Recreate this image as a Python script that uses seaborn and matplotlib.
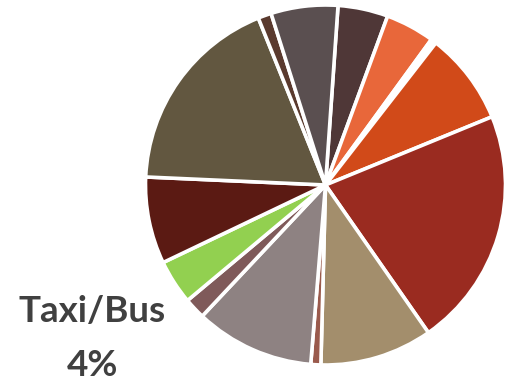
import matplotlib
matplotlib.use("Agg")
import matplotlib.pyplot as plt
import seaborn as sns

# Share of trips by category, clockwise from the top
categories = [
    "Cat A", "Cat B", "Cat C", "Cat D", "Cat E", "Cat F", "Cat G",
    "Cat H", "Cat I", "Taxi/Bus", "Cat K", "Cat L", "Cat M", "Cat N",
]
shares = [4.5, 4.4, 0.5, 8.3, 21.5, 10.1, 0.9, 10.7, 1.9, 4.0, 7.8, 18.2, 1.2, 6.0]
colors = [
    "#4f3737", "#e8673a", "#ffffff", "#d14a19", "#9a2b20", "#a38e6c", "#9a5a4c",
    "#8e8282", "#7f5a5a", "#92d050", "#5b1a13", "#625740", "#5a3a2e", "#5a4f50",
]
labelled = "Taxi/Bus"

sns.set_theme(style="white")
plt.rcParams["font.family"] = ["Lato", "DejaVu Sans"]

W, H = 510, 381
fig = plt.figure(figsize=(W / 100, H / 100), dpi=100)
cx, cy, r = 325.5, 185, 180
ax = fig.add_axes([(cx - r) / W, (H - cy - r) / H, 2 * r / W, 2 * r / H])

ax.pie(
    shares,
    colors=colors,
    startangle=86,
    counterclock=False,
    radius=1.0,
    wedgeprops=dict(edgecolor="white", linewidth=2.6),
)
ax.set_xlim(-1.0, 1.0)
ax.set_ylim(-1.0, 1.0)
ax.set_aspect("equal")
ax.axis("off")

val = shares[categories.index(labelled)]
fig.text(92 / W, 1 - 312 / H, labelled, ha="center", va="center",
         fontsize=26.5, fontweight="bold", color="#404040")
fig.text(93 / W, 1 - 365 / H, f"{val:.0f}%", ha="center", va="center",
         fontsize=26.5, fontweight="bold", color="#404040")

fig.savefig("out.png", dpi=100, facecolor="white")
